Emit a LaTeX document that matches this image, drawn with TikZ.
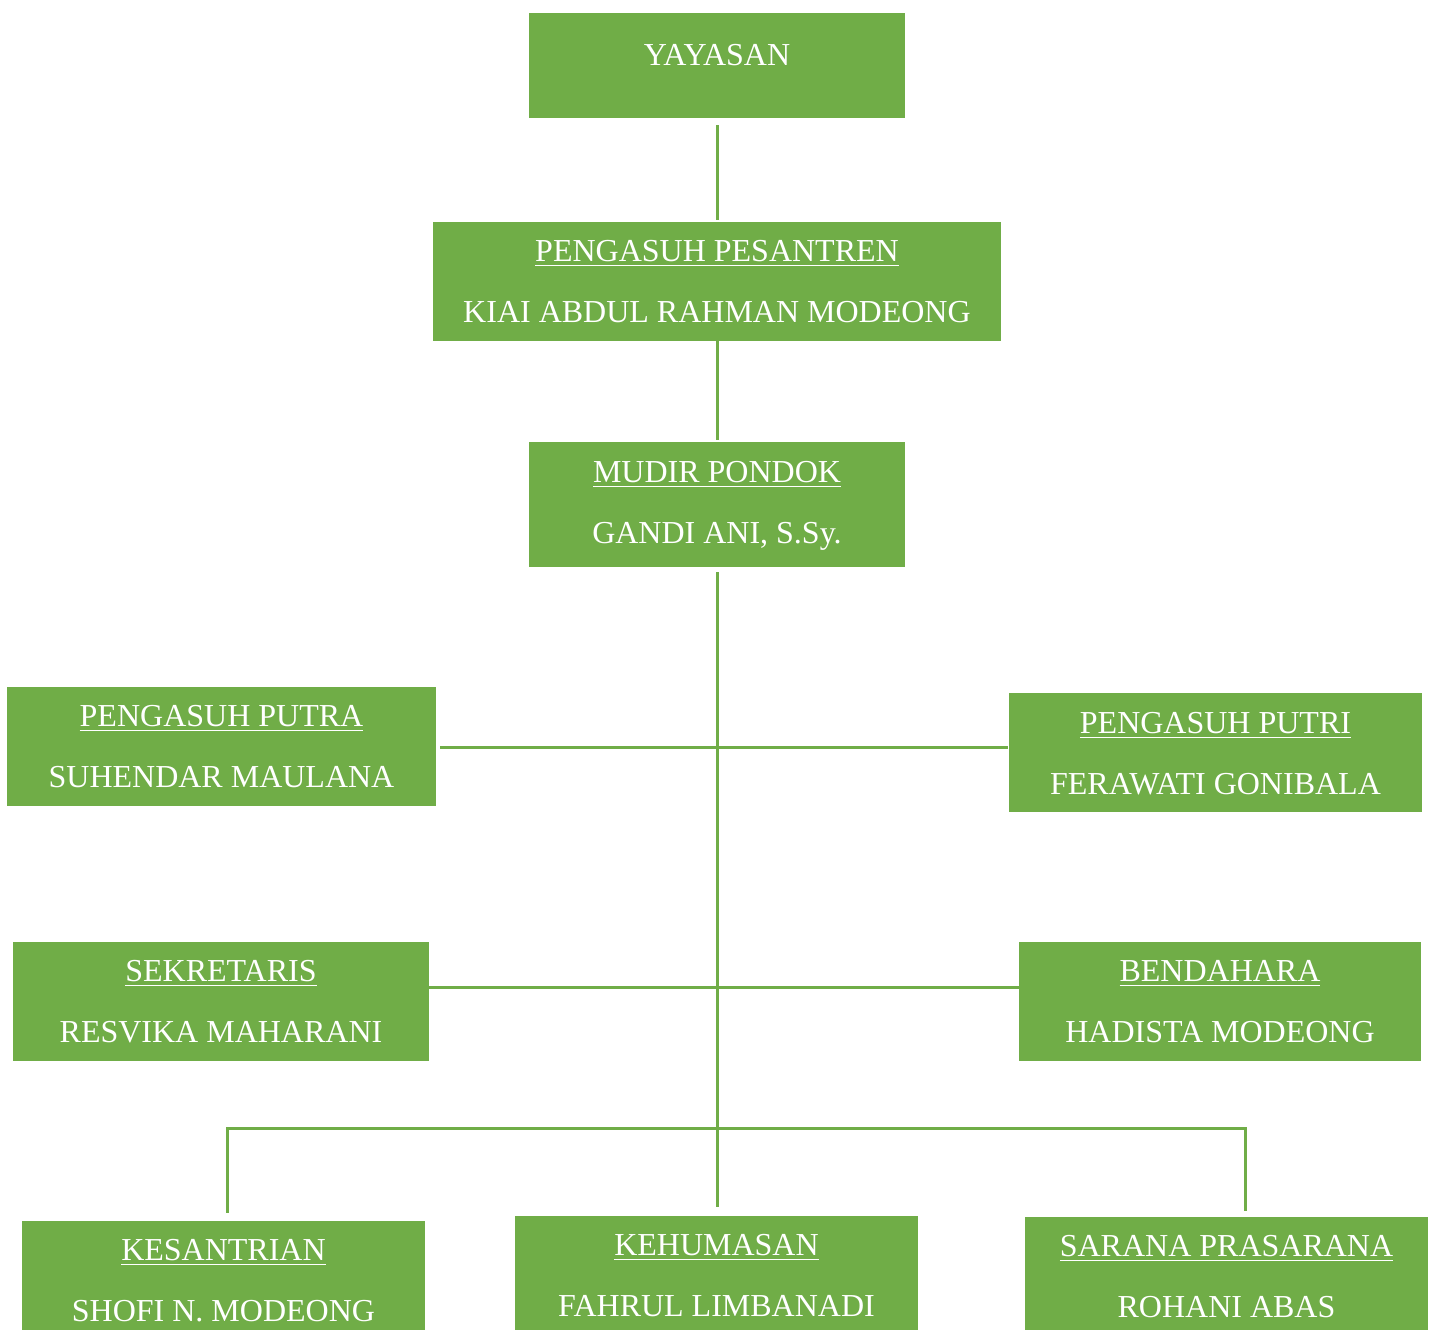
\documentclass[tikz,border=0pt]{standalone}
\usepackage{fontspec}
\setmainfont{Liberation Serif}
\definecolor{grn}{HTML}{70AD47}
\newcommand\myul[1]{\setbox0\hbox{#1}\rlap{\rule[-2.25pt]{\wd0}{0.5pt}}\box0}
\begin{document}
\begin{tikzpicture}[x=0.5pt,y=-0.5pt,
  box/.style={fill=grn,draw=none,inner sep=0,minimum height=59.5pt},
  lbl/.style={anchor=base,inner sep=0,text=white,font=\fontsize{16}{19}\selectfont},
  conn/.style={draw=grn,line width=1.5pt}]
\useasboundingbox (0,0) rectangle (1434,1329);
\clip (0,0) rectangle (1434,1329);
% boxes
\node[box,minimum width=188pt,minimum height=52.5pt] (yayasan) at (717,65.5) {};
\node[box,minimum width=284pt] (pesantren) at (717,281.5) {};
\node[box,minimum width=188pt,minimum height=62.5pt] (mudir) at (717,504.5) {};
\node[box,minimum width=214.5pt] (putra) at (221.5,746.5) {};
\node[box,minimum width=206.5pt] (putri) at (1215.5,752.5) {};
\node[box,minimum width=208pt] (sekretaris) at (221,1001.5) {};
\node[box,minimum width=201pt] (bendahara) at (1220,1001.5) {};
\node[box,minimum width=201.5pt] (kesantrian) at (223.5,1280.5) {};
\node[box,minimum width=201.5pt] (kehumasan) at (716.5,1275.5) {};
\node[box,minimum width=201.5pt] (sarana) at (1226.5,1276.5) {};
% texts
\node[lbl] (t0) at (717,65) {YAYASAN};
\node[lbl] (t1a) at (717,261) {\myul{PENGASUH PESANTREN}};
\node[lbl] (t1b) at (717,322) {KIAI ABDUL RAHMAN MODEONG};
\node[lbl] (t2a) at (717,482) {\myul{MUDIR PONDOK}};
\node[lbl] (t2b) at (717,543) {GANDI ANI, S.Sy.};
\node[lbl] (t3a) at (221.5,726) {\myul{PENGASUH PUTRA}};
\node[lbl] (t3b) at (221.5,787) {SUHENDAR MAULANA};
\node[lbl] (t4a) at (1215.5,733) {\myul{PENGASUH PUTRI}};
\node[lbl] (t4b) at (1215.5,794) {FERAWATI GONIBALA};
\node[lbl] (t5a) at (221,981) {\myul{SEKRETARIS}};
\node[lbl] (t5b) at (221,1042) {RESVIKA MAHARANI};
\node[lbl] (t6a) at (1220,981) {\myul{BENDAHARA}};
\node[lbl] (t6b) at (1220,1042) {HADISTA MODEONG};
\node[lbl] (t7a) at (223.5,1260) {\myul{KESANTRIAN}};
\node[lbl] (t7b) at (223.5,1321) {SHOFI N. MODEONG};
\node[lbl] (t8a) at (716.5,1255) {\myul{KEHUMASAN}};
\node[lbl] (t8b) at (716.5,1316) {FAHRUL LIMBANADI};
\node[lbl] (t9a) at (1226.5,1256) {\myul{SARANA PRASARANA}};
\node[lbl] (t9b) at (1226.5,1317) {ROHANI ABAS};
% junctions
\coordinate (h1) at (717,747);
\coordinate (h2) at (717,987);
\coordinate (h3) at (717,1128);
% connectors
\draw[conn] ([yshift=-3.5pt]yayasan.south) -- ([yshift=1pt]pesantren.north);
\draw[conn] (pesantren.south) -- ([yshift=1pt]mudir.north);
\draw[conn] ([yshift=-2.5pt]mudir.south) -- ([yshift=4.5pt]mudir.south |- kehumasan.north);
\draw[conn] ([xshift=2pt]putra.east |- h1) -- ([xshift=-0.5pt]putri.west |- h1);
\draw[conn] (sekretaris.east |- h2) -- (bendahara.west |- h2);
\draw[conn] ([xshift=1.75pt,yshift=4pt]kesantrian.north) |- (h3) -| ([xshift=9.25pt,yshift=3pt]sarana.north);
\end{tikzpicture}
\end{document}
